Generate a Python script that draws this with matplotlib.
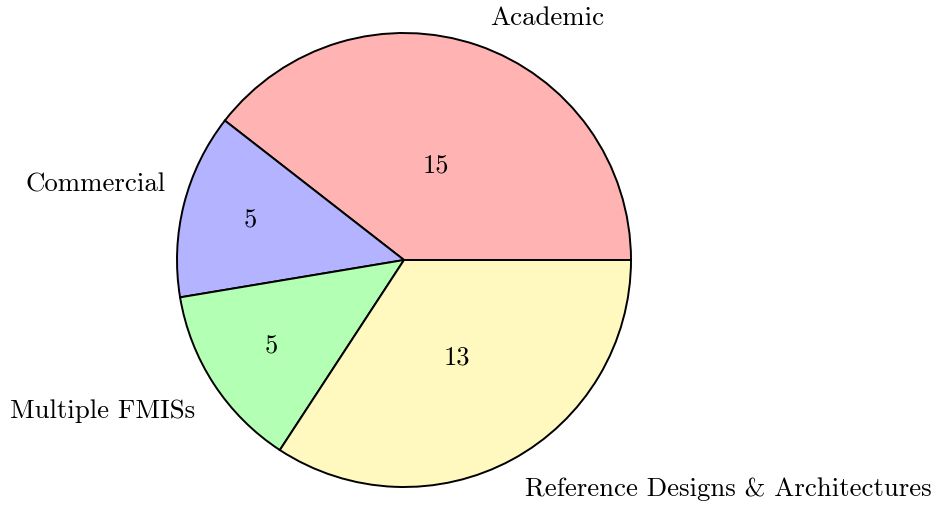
import numpy as np
import matplotlib.pyplot as plt

plt.rcParams['font.family'] = ['cmr10', 'DejaVu Serif']
plt.rcParams['axes.formatter.use_mathtext'] = True

labels = ['Academic', 'Commercial', 'Multiple FMISs', 'Reference Designs & Architectures']
values = [15, 5, 5, 13]
colors = ['#ffb3b3', '#b3b3ff', '#b3ffb3', '#fff8bf']

# label anchor points (data units, radius = 1)
label_xy = [(0.630, 1.066), (-1.357, 0.330), (-1.326, -0.665), (1.427, -1.009)]
num_dist = [0.44, 0.70, 0.70, 0.49]

fig = plt.figure(figsize=(9.35, 5.08), dpi=100)
ax = fig.add_axes([0, 0, 1, 1])

wedges, _ = ax.pie(values, colors=colors, startangle=0, counterclock=True,
                   wedgeprops=dict(edgecolor='black', linewidth=1.4))

total = sum(values)
start = 0.0
for v, d in zip(values, num_dist):
    mid = np.deg2rad(start + 180.0 * v / total)
    ax.text(d * np.cos(mid), d * np.sin(mid), str(v), ha='center', va='center', fontsize=19)
    start += 360.0 * v / total

for lab, (x, y) in zip(labels, label_xy):
    ax.text(x, y, lab, ha='center', va='center', fontsize=19.3)

ax.set_xlim(-404 / 227, (935 - 404) / 227)
ax.set_ylim(-(508 - 260) / 227, 260 / 227)
ax.set_aspect('equal')
ax.axis('off')

fig.savefig('out.png', dpi=100)
